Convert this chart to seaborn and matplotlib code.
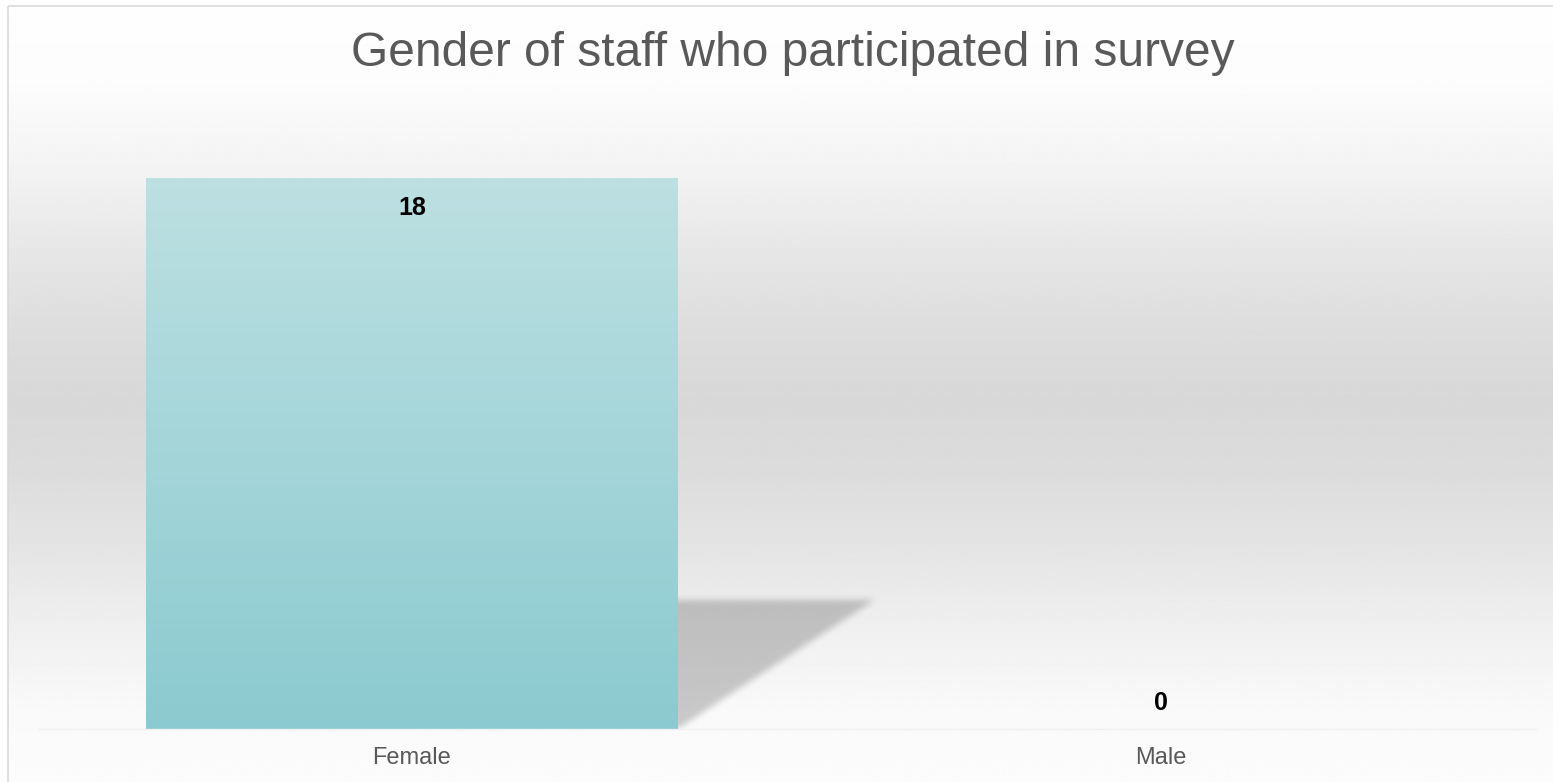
import numpy as np
import pandas as pd
import seaborn as sns
import matplotlib
matplotlib.use("Agg")
import matplotlib.pyplot as plt
from matplotlib.patches import Rectangle
from matplotlib.path import Path

# data
genders = ["Female", "Male"]
counts = [18, 0]
title = "Gender of staff who participated in survey"

W, H = 1553, 782
sns.set_theme(style="white")
plt.rcParams["font.family"] = ["Liberation Sans", "DejaVu Sans"]

fig = plt.figure(figsize=(W / 100, H / 100), dpi=100)
fig.patch.set_facecolor("white")

# chart area: soft grey gradient, white at top & bottom
bg = fig.add_axes([0, 0, 1, 1], zorder=0)
bg.axis("off")
stops_y = [0, 0.1, 0.2, 0.3, 0.4, 0.5, 0.6, 0.7, 0.8, 0.9, 1.0]
stops_v = [254, 252, 244, 232, 222, 216, 220, 229, 240, 249, 252]
g = np.interp(np.linspace(0, 1, 400), stops_y, stops_v) / 255
bg.imshow(np.repeat(g[:, None], 2, axis=1), cmap="gray", vmin=0, vmax=1,
          extent=[8, W + 5, H + 5, 6], aspect="auto", interpolation="bilinear")
bg.add_patch(Rectangle((8, 6), W + 20, H + 20, fill=False, ec="#d9d9d9", lw=1.2))
bg.set_xlim(0, W)
bg.set_ylim(H, 0)

ax = fig.add_axes([37.5 / W, 53 / H, 1498 / W, 612 / H], zorder=1)
ax.patch.set_alpha(0)
df = pd.DataFrame({"gender": genders, "count": counts})
sns.barplot(data=df, x="gender", y="count", ax=ax, color="#a8d8dc",
            width=0.71, saturation=1, linewidth=0)
bars = list(ax.patches)
ax.set_ylim(0, 20)
ax.set_xlim(-0.5, 1.5)


def blur(a, r):
    k = np.ones(2 * r + 1) / (2 * r + 1)
    a = np.apply_along_axis(lambda v: np.convolve(v, k, mode="same"), 0, a)
    a = np.apply_along_axis(lambda v: np.convolve(v, k, mode="same"), 1, a)
    return a


top_c = np.array([189, 224, 226]) / 255
bot_c = np.array([139, 202, 208]) / 255

for bar in bars:
    h = bar.get_height()
    if h <= 0:
        continue
    bar.set_edgecolor("none")
    x0, w = bar.get_x(), bar.get_width()

    # perspective shadow falling to the right
    hs, dx = h * 0.235, w * 0.37
    ext = 1.0
    poly = Path([(x0 - dx * ext / hs, -ext), (x0 + w - dx * ext / hs, -ext),
                 (x0 + w + dx, hs), (x0 + dx, hs)])
    xs = np.linspace(x0, x0 + w + dx + 0.06, 820)
    ys = np.linspace(0, hs + 0.6, 180)
    gx, gy = np.meshgrid(xs, ys)
    m = poly.contains_points(np.c_[gx.ravel(), gy.ravel()]).reshape(gx.shape).astype(float)
    m = blur(blur(m, 4), 4)
    sh = np.zeros(m.shape + (4,))
    sh[..., 3] = m * 0.2
    ax.imshow(sh, origin="lower", extent=[xs[0], xs[-1], 0, ys[-1]],
              aspect="auto", zorder=0.5, interpolation="bilinear")

    # vertical gradient fill for the bar
    t = np.linspace(0, 1, 256)[:, None]
    fill = bot_c * (1 - t) + top_c * t
    im = ax.imshow(fill[:, None, :], origin="lower", extent=[x0, x0 + w, 0, h],
                   aspect="auto", zorder=bar.get_zorder() + 0.1)
    im.set_clip_path(bar)

ax.set_ylim(0, 20)
ax.set_xlim(-0.5, 1.5)

for bar, v in zip(bars, counts):
    cx = bar.get_x() + bar.get_width() / 2
    off = -30 if v > 0 else 26
    ax.annotate(f"{v}", (cx, v), xytext=(0, off), textcoords="offset pixels",
                ha="center", va="center", fontsize=18, fontweight="bold",
                color="black", zorder=5)

ax.set_xlabel("")
ax.set_ylabel("")
ax.set_yticks([])
ax.tick_params(axis="x", length=0, pad=13, labelsize=17, labelcolor="#595959")
for s in ["left", "right", "top"]:
    ax.spines[s].set_visible(False)
ax.spines["bottom"].set_color("#f0f0f0")
ax.spines["bottom"].set_linewidth(1)

fig.text(792.5 / W, 1 - 65.5 / H, title, ha="center", va="baseline",
         fontsize=34.5, color="#595959")

fig.savefig("out.png", dpi=100)
